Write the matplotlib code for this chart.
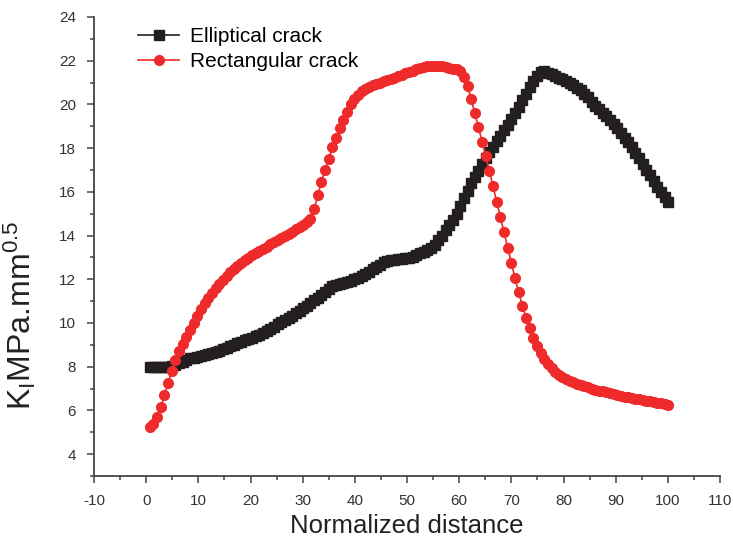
import numpy as np
import matplotlib.pyplot as plt
from matplotlib.ticker import MultipleLocator

plt.rcParams['font.family'] = ['Liberation Sans', 'DejaVu Sans']
plt.rcParams['mathtext.fontset'] = 'custom'
plt.rcParams['mathtext.rm'] = 'Liberation Sans'
plt.rcParams['mathtext.it'] = 'Liberation Sans'
plt.rcParams['axes.unicode_minus'] = False

# sample positions along the crack front (step of 0.7)
distance = np.round(np.arange(1, 144) * 0.7, 1)

# K_I for the elliptical crack
elliptical = [
    8.00, 8.00, 8.00, 8.00, 8.00, 8.00, 8.03, 8.08, 8.15, 8.23,
    8.31, 8.38, 8.42, 8.46, 8.50, 8.54, 8.58, 8.61, 8.67, 8.73,
    8.79, 8.86, 8.93, 9.00, 9.07, 9.14, 9.20, 9.27, 9.33, 9.40,
    9.46, 9.53, 9.63, 9.73, 9.83, 9.94, 10.04, 10.14, 10.24, 10.34,
    10.44, 10.56, 10.67, 10.79, 10.90, 11.03, 11.16, 11.29, 11.42, 11.56,
    11.70, 11.76, 11.80, 11.84, 11.88, 11.93, 12.00, 12.07, 12.15, 12.25,
    12.35, 12.45, 12.55, 12.67, 12.78, 12.83, 12.86, 12.89, 12.92, 12.94,
    12.96, 12.98, 13.03, 13.10, 13.18, 13.27, 13.36, 13.45, 13.58, 13.78,
    14.00, 14.24, 14.48, 14.72, 14.98, 15.35, 15.70, 16.04, 16.39, 16.68,
    16.97, 17.27, 17.56, 17.82, 18.07, 18.32, 18.57, 18.83, 19.08, 19.33,
    19.60, 19.90, 20.20, 20.50, 20.80, 21.05, 21.28, 21.48, 21.55, 21.45,
    21.38, 21.30, 21.22, 21.15, 21.07, 20.98, 20.88, 20.77, 20.66, 20.50,
    20.32, 20.13, 19.95, 19.78, 19.63, 19.48, 19.30, 19.10, 18.90, 18.68,
    18.47, 18.26, 18.04, 17.80, 17.55, 17.29, 17.02, 16.75, 16.49, 16.23,
    15.98, 15.75, 15.55,
]

# K_I for the rectangular crack
rectangular = [
    5.25, 5.40, 5.70, 6.15, 6.70, 7.25, 7.80, 8.30, 8.72, 9.02,
    9.35, 9.70, 10.02, 10.32, 10.62, 10.90, 11.15, 11.38, 11.60, 11.80,
    11.98, 12.15, 12.32, 12.48, 12.62, 12.75, 12.87, 12.98, 13.09, 13.19,
    13.29, 13.39, 13.50, 13.60, 13.70, 13.80, 13.90, 14.00, 14.09, 14.18,
    14.28, 14.38, 14.50, 14.63, 14.78, 15.20, 15.85, 16.45, 17.00, 17.50,
    18.05, 18.45, 18.90, 19.30, 19.65, 20.00, 20.25, 20.45, 20.60, 20.72,
    20.82, 20.90, 20.95, 21.00, 21.05, 21.10, 21.15, 21.22, 21.28, 21.35,
    21.42, 21.48, 21.55, 21.62, 21.68, 21.72, 21.75, 21.76, 21.76, 21.75,
    21.74, 21.72, 21.68, 21.64, 21.60, 21.55, 21.25, 20.85, 20.25, 19.60,
    18.95, 18.30, 17.65, 16.95, 16.25, 15.55, 14.85, 14.15, 13.45, 12.75,
    12.05, 11.40, 10.80, 10.25, 9.75, 9.30, 8.95, 8.62, 8.35, 8.12,
    7.93, 7.77, 7.64, 7.53, 7.44, 7.36, 7.29, 7.22, 7.16, 7.10,
    7.05, 7.00, 6.95, 6.91, 6.87, 6.83, 6.79, 6.75, 6.71, 6.67,
    6.63, 6.60, 6.57, 6.54, 6.51, 6.48, 6.45, 6.42, 6.39, 6.36,
    6.33, 6.30, 6.25,
]

fig = plt.figure(figsize=(7.33, 5.42), dpi=100)
ax = fig.add_axes([94 / 733, 1 - 476 / 542, 626 / 733, 459 / 542])

ax.plot(distance, elliptical, color='#231f20', marker='s', markersize=7.5,
        linewidth=1.2, label='Elliptical crack')
ax.plot(distance, rectangular, color='#ee2a2a', marker='o', markersize=7,
        linewidth=1.2, label='Rectangular crack')

ax.set_xlim(-10, 110)
ax.set_ylim(3, 24)
ax.xaxis.set_major_locator(MultipleLocator(10))
ax.xaxis.set_minor_locator(MultipleLocator(5))
ax.yaxis.set_minor_locator(MultipleLocator(1))
ax.set_yticks(np.arange(4, 25, 2))

for side in ['top', 'right']:
    ax.spines[side].set_visible(False)
for side in ['left', 'bottom']:
    ax.spines[side].set_color('#444444')
    ax.spines[side].set_linewidth(1.3)

ax.tick_params(which='major', direction='out', length=5, width=1.1,
               color='#444444', labelsize=11, labelcolor='#333333', pad=8)
ax.tick_params(which='minor', direction='out', length=3, width=1.1, color='#444444')

ax.set_xlabel('Normalized distance', fontsize=18.5, color='#222222', labelpad=4)
ax.set_ylabel(r'K$_{\mathrm{I}}$MPa.mm$^{\mathrm{0.5}}$', fontsize=23, color='#222222')
ax.yaxis.set_label_coords(-0.09, 0.35)

ax.legend(loc='upper left', bbox_to_anchor=(0.070, 0.978), frameon=False,
          fontsize=15, handlelength=2.0, handletextpad=0.5, labelspacing=0.3,
          borderpad=0, borderaxespad=0)

fig.savefig('out.png', dpi=100)
